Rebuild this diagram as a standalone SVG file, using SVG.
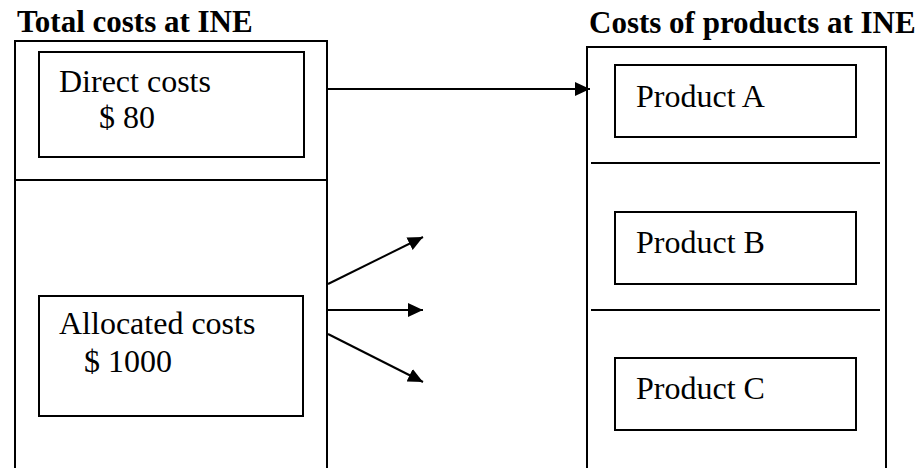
<svg xmlns="http://www.w3.org/2000/svg" width="921" height="468" viewBox="0 0 921 468">
<style>
.box{fill:none;stroke:#000;stroke-width:2}
.ln{stroke:#000;stroke-width:2;fill:none}
.title{font-family:"Liberation Serif",serif;font-weight:bold;font-size:31px;fill:#000}
.lbl{font-family:"Liberation Serif",serif;font-size:32px;fill:#000}
.conn{stroke:#000;stroke-width:2;fill:none;marker-end:url(#ah)}
</style>
<defs>
<marker id="ah" markerUnits="userSpaceOnUse" markerWidth="16" markerHeight="14" refX="15" refY="7" orient="auto">
<path d="M0,0 L15,7 L0,14 Z" fill="#000"/>
</marker>
</defs>
<rect width="921" height="468" fill="#fff"/>
<g id="left-panel">
<text class="title" x="17" y="32">Total costs at INE</text>
<path class="ln" d="M15,470 V41 H327 V470"/>
<line class="ln" x1="15" y1="180" x2="327" y2="180"/>
</g>
<g id="direct-costs">
<rect class="box" x="39" y="52" width="265" height="105"/>
<text class="lbl" x="59" y="92">Direct costs</text>
<text class="lbl" x="99" y="128">$ 80</text>
</g>
<g id="allocated-costs">
<rect class="box" x="39" y="296" width="264" height="120"/>
<text class="lbl" x="59" y="334">Allocated costs</text>
<text class="lbl" x="84" y="372">$ 1000</text>
</g>
<g id="right-panel">
<text class="title" x="589" y="33">Costs of products at INE</text>
<path class="ln" d="M587,470 V47 H886 V470"/>
<line class="ln" x1="591" y1="163" x2="880" y2="163"/>
<line class="ln" x1="591" y1="310" x2="880" y2="310"/>
</g>
<g id="product-a">
<rect class="box" x="615" y="65" width="241" height="72"/>
<text class="lbl" x="636" y="107">Product A</text>
</g>
<g id="product-b">
<rect class="box" x="615" y="212" width="241" height="72"/>
<text class="lbl" x="636" y="253">Product B</text>
</g>
<g id="product-c">
<rect class="box" x="615" y="358" width="241" height="72"/>
<text class="lbl" x="636" y="399">Product C</text>
</g>
<g id="connectors">
<line class="conn" x1="328" y1="89" x2="590" y2="89"/>
<line class="conn" x1="328" y1="284" x2="423" y2="237"/>
<line class="conn" x1="328" y1="310" x2="423" y2="310"/>
<line class="conn" x1="328" y1="334" x2="423" y2="382"/>
</g>
</svg>
